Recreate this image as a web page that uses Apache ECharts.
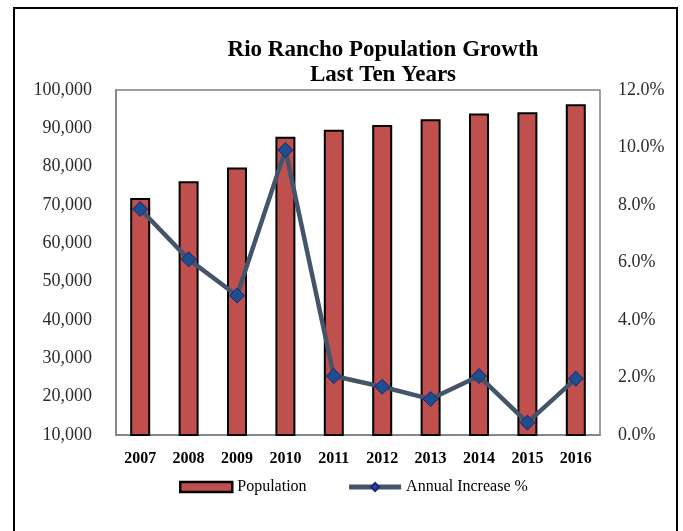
<!DOCTYPE html>
<html>
<head>
<meta charset="utf-8">
<script src="https://cdn.jsdelivr.net/npm/echarts@6/dist/echarts.min.js"></script>
<style>
  html, body { margin: 0; padding: 0; background: #fff; }
  #chart { width: 683px; height: 531px; }
</style>
</head>
<body>
<div id="chart"></div>
<script>
// Rio Rancho population by year, with the year-over-year increase
const years = ['2007', '2008', '2009', '2010', '2011', '2012', '2013', '2014', '2015', '2016'];
const population = [71800, 76200, 79800, 87800, 89600, 90900, 92400, 93900, 94200, 96300];
const annualIncrease = [7.86, 6.11, 4.85, 9.91, 2.05, 1.68, 1.25, 2.05, 0.43, 1.96];

const serif = '"Liberation Serif", "Times New Roman", serif';

const chart = echarts.init(document.getElementById('chart'));
chart.setOption({
  animation: false,
  backgroundColor: '#fff',
  graphic: [{
    type: 'rect',
    shape: { x: 14, y: 8, width: 663, height: 540 },
    style: { fill: 'none', stroke: '#000', lineWidth: 2 },
    silent: true
  }],
  title: {
    text: 'Rio Rancho Population Growth\nLast Ten Years',
    left: 378,
    textAlign: 'center',
    top: 33,
    textStyle: {
      fontFamily: serif,
      fontSize: 23,
      fontWeight: 'bold',
      color: '#000',
      lineHeight: 25
    }
  },
  grid: {
    left: 116,
    right: 83,
    top: 90,
    bottom: 96,
    show: true,
    borderColor: '#808080',
    borderWidth: 1.5
  },
  legend: {
    bottom: 31,
    left: 174,
    itemGap: 40,
    itemWidth: 52,
    itemHeight: 10,
    textStyle: { fontFamily: serif, fontSize: 16, color: '#000' },
    data: [
      { name: 'Population', icon: 'rect', itemStyle: { borderWidth: 2.5 } },
      { name: 'Annual Increase %', lineStyle: { width: 5 } }
    ]
  },
  xAxis: {
    type: 'category',
    data: years,
    axisLine: { lineStyle: { color: '#808080', width: 1.5 } },
    axisTick: { show: false },
    axisLabel: {
      fontFamily: serif,
      fontSize: 16,
      fontWeight: 'bold',
      color: '#000',
      margin: 16
    }
  },
  yAxis: [
    {
      type: 'value',
      min: 10000,
      max: 100000,
      interval: 10000,
      splitLine: { show: false },
      axisLine: { show: true, lineStyle: { color: '#808080', width: 1.5 } },
      axisTick: { show: false },
      axisLabel: {
        fontFamily: serif,
        fontSize: 18,
        color: '#2b2b2b',
        margin: 24,
        formatter: v => v.toLocaleString('en-US')
      }
    },
    {
      type: 'value',
      min: 0,
      max: 12,
      interval: 2,
      splitLine: { show: false },
      axisLine: { show: false },
      axisTick: { show: false },
      axisLabel: {
        fontFamily: serif,
        fontSize: 18,
        color: '#2b2b2b',
        margin: 18,
        formatter: v => v.toFixed(1) + '%'
      }
    }
  ],
  series: [
    {
      name: 'Population',
      type: 'bar',
      yAxisIndex: 0,
      data: population,
      barWidth: 20,
      itemStyle: { color: '#C0504D', borderColor: '#000', borderWidth: 2 }
    },
    {
      name: 'Annual Increase %',
      type: 'line',
      yAxisIndex: 1,
      data: annualIncrease,
      symbol: 'diamond',
      symbolSize: 15,
      lineStyle: { color: '#44546A', width: 4.5 },
      itemStyle: { color: '#1F4E8C', borderColor: '#1a237e', borderWidth: 1 }
    }
  ]
});
</script>
</body>
</html>
